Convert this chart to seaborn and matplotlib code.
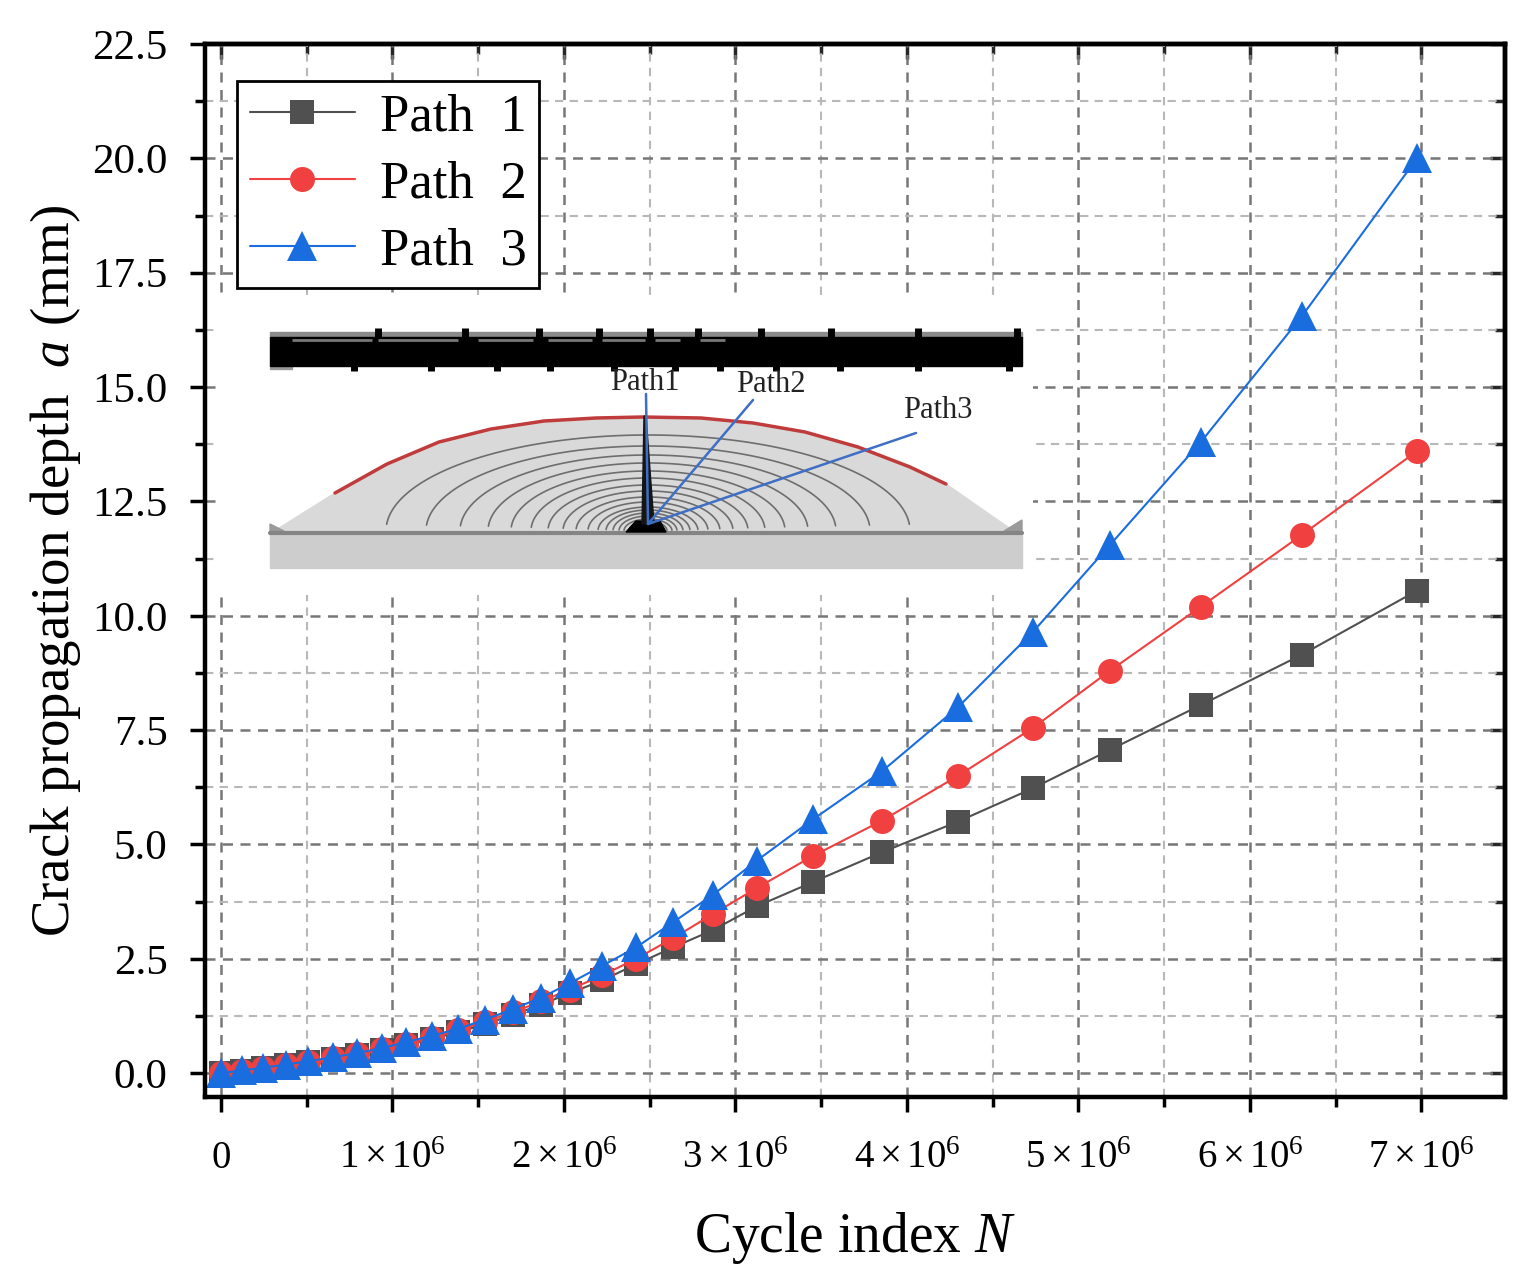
import numpy as np
import pandas as pd
import matplotlib
matplotlib.use("Agg")
import matplotlib.pyplot as plt
import seaborn as sns

# cycle index in millions
cycles = [0, 0.122, 0.248, 0.377, 0.507, 0.653, 0.793, 0.939, 1.079, 1.230, 1.382, 1.539, 1.700, 1.866,
          2.035, 2.224, 2.420, 2.636, 2.869, 3.125, 3.452, 3.854, 4.297, 4.735, 5.184, 5.714, 6.303, 6.974]
path1 = [0, 0.05, 0.11, 0.17, 0.24, 0.31, 0.40, 0.50, 0.62, 0.75, 0.90, 1.07, 1.27, 1.50,
         1.75, 2.03, 2.38, 2.75, 3.13, 3.65, 4.18, 4.83, 5.50, 6.23, 7.07, 8.05, 9.15, 10.55]
path2 = [0, 0.05, 0.11, 0.18, 0.25, 0.33, 0.42, 0.52, 0.64, 0.78, 0.94, 1.12, 1.33, 1.57,
         1.83, 2.14, 2.50, 2.95, 3.48, 4.05, 4.75, 5.52, 6.50, 7.55, 8.80, 10.20, 11.77, 13.60]
path3 = [0, 0.06, 0.12, 0.19, 0.26, 0.35, 0.44, 0.55, 0.68, 0.82, 0.97, 1.17, 1.40, 1.65,
         1.97, 2.35, 2.75, 3.30, 3.90, 4.65, 5.55, 6.60, 8.00, 9.65, 11.55, 13.80, 16.55, 20.00]

x_ticks = [0, 1, 2, 3, 4, 5, 6, 7]
x_labels = ["0"] + [rf"${i}\times10^{{6}}$" for i in x_ticks[1:]]
y_ticks = [0, 2.5, 5, 7.5, 10, 12.5, 15, 17.5, 20, 22.5]

# inset sketch, in pixels of the picture
red_x = [335, 387, 439, 491, 544, 596, 643, 701, 753, 805, 858, 910, 946]
red_y = [493, 464, 442, 429, 421, 418, 417, 418, 423, 432, 447, 467, 484]
arc_a = [262, 222, 188, 160, 137, 117, 100, 85, 72, 60, 50, 42, 35, 29, 24, 19, 15, 11, 8, 5]
arc_b = [96, 85, 76, 68, 60, 53, 46, 40, 34, 29, 24, 21, 18, 15, 12, 10, 8, 6, 4, 3]
nubs_top = [378, 465, 539, 599, 650, 698, 761, 831, 918, 1017]
nubs_bottom = [354, 431, 497, 550, 614, 675, 720, 776, 840, 918, 1009]
band_x0 = [292, 378, 478, 548, 602, 655, 700]
band_x1 = [372, 458, 533, 592, 645, 680, 725]

W, H = 1538, 1276
sns.set_theme(style="ticks")
plt.rcParams["font.family"] = ["Liberation Serif", "DejaVu Serif"]
plt.rcParams["mathtext.fontset"] = "custom"
plt.rcParams["mathtext.rm"] = "Liberation Serif"
plt.rcParams["mathtext.it"] = "Liberation Serif:italic"
plt.rcParams["text.color"] = "black"
plt.rcParams["axes.labelcolor"] = "black"
plt.rcParams["xtick.labelcolor"] = "black"
plt.rcParams["ytick.labelcolor"] = "black"

fig = plt.figure(figsize=(W / 100, H / 100), dpi=100)
ax = fig.add_axes([205 / W, 1 - 1097 / H, 1300 / W, 1053 / H])

df = pd.DataFrame({"cycles": cycles, "p1": path1, "p2": path2, "p3": path3})
sns.lineplot(data=df, x="cycles", y="p1", ax=ax, color="#505050", marker="s", markersize=17,
             markeredgewidth=0, linewidth=1.5, label="Path  1")
sns.lineplot(data=df, x="cycles", y="p2", ax=ax, color="#f04040", marker="o", markersize=18,
             markeredgewidth=0, linewidth=1.5, label="Path  2")
sns.lineplot(data=df, x="cycles", y="p3", ax=ax, color="#1a6ddf", marker="^", markersize=22,
             markeredgewidth=0, linewidth=1.5, label="Path  3")

ax.set_xlim(-0.093, 7.487)
ax.set_ylim(-0.52, 22.5)
ax.set_xticks(x_ticks)
ax.set_xticklabels(x_labels)
ax.set_yticks(y_ticks)
ax.set_yticklabels([f"{v:.1f}" for v in y_ticks])
ax.set_xticks(np.arange(0.5, 7.5, 1), minor=True)
ax.set_yticks(np.arange(1.25, 22.5, 2.5), minor=True)

ax.set_axisbelow(True)
ax.grid(True, which="major", color="#777777", linewidth=1.8, linestyle=(0, (4, 3)))
ax.grid(True, which="minor", color="#b8b8b8", linewidth=1.5, linestyle=(0, (4, 3)))

ax.tick_params(which="major", direction="out", length=11, width=2.5, color="black")
ax.tick_params(which="minor", direction="out", length=7, width=2.5, color="black")
ax.tick_params(axis="x", which="major", pad=20, labelsize=28)
ax.tick_params(axis="y", which="major", pad=16, labelsize=31)

# inward ticks on the top and right sides
ax2 = ax.secondary_xaxis("top")
ax2.set_xticks(x_ticks)
ax2.set_xticks(np.arange(0.5, 7.5, 1), minor=True)
ax2.tick_params(which="major", direction="in", length=11, width=2.5, labeltop=False)
ax2.tick_params(which="minor", direction="in", length=7, width=2.5)
ay2 = ax.secondary_yaxis("right")
ay2.set_yticks(y_ticks)
ay2.set_yticks(np.arange(1.25, 22.5, 2.5), minor=True)
ay2.tick_params(which="major", direction="in", length=11, width=2.5, labelright=False)
ay2.tick_params(which="minor", direction="in", length=7, width=2.5)

for a in (ax, ax2, ay2):
    for s in a.spines.values():
        s.set_linewidth(3.2)
        s.set_color("black")

ax.set_xlabel(r"Cycle index $N$", fontsize=40, va="center")
ax.set_ylabel(r"Crack propagation depth  $a$ (mm)", fontsize=39.5, va="center")
ax.xaxis.set_label_coords(0.5, -0.134)
ax.yaxis.set_label_coords(-0.115, 0.5)

leg = ax.legend(loc="upper left", bbox_to_anchor=((237 - 205) / 1300, 1 - (81 - 44) / 1053),
                fontsize=38, frameon=True, fancybox=False, framealpha=1, edgecolor="black",
                borderaxespad=0, handlelength=2.0, handletextpad=0.47, labelspacing=0.36,
                borderpad=0.24)
leg.get_frame().set_linewidth(2)

# inset sketch of the crack front
ins = fig.add_axes([218 / W, 1 - 595 / H, 815 / W, 295 / H])
ins.set_xlim(218, 1033)
ins.set_ylim(595, 300)
ins.axis("off")
ins.add_patch(plt.Rectangle((218, 300), 815, 295, color="white", zorder=0))
ins.add_patch(plt.Rectangle((270, 534), 752, 34, color="#cdcdcd", zorder=1))
ins.fill([276] + red_x + [1012, 1012, 276], [530] + red_y + [530, 534, 534], color="#d9d9d9", zorder=2)
ins.fill([270, 284, 270], [524, 531, 531], color="#9a9a9a", zorder=2.5)
ins.fill([1022, 1004, 1022], [520, 531, 531], color="#9a9a9a", zorder=2.5)
ins.plot([270, 1022], [533, 533], color="#858585", linewidth=3, zorder=4)
ins.plot(red_x, red_y, color="#c03c3c", linewidth=2.5, zorder=3)

t = np.linspace(0.07, np.pi - 0.07, 120)
for a, b in zip(arc_a, arc_b):
    ins.plot(648 + a * np.cos(t), 531 - b * np.sin(t), color="#6e6e6e", linewidth=1.2, zorder=3)

# thick band at the top with weld nubs
ins.add_patch(plt.Rectangle((270, 332), 752, 6, color="#8a8a8a", zorder=3))
ins.add_patch(plt.Rectangle((270, 337), 752, 29, color="black", zorder=4))
ins.add_patch(plt.Rectangle((270, 366), 22, 3, color="#999999", zorder=3))
ins.vlines(nubs_top, 328, 340, color="black", linewidth=5, zorder=5)
ins.vlines(nubs_bottom, 362, 371, color="black", linewidth=5, zorder=5)
ins.hlines([339.5] * len(band_x0), band_x0, band_x1, color="#777777", linewidth=2, zorder=5)

ins.fill([626, 636, 660, 666], [532, 521, 521, 532], color="black", zorder=5)
ins.fill([644, 646, 654, 642], [416, 416, 524, 524], color="#151515", zorder=5)
ins.plot([646, 648], [394, 524], color="#3f6fc4", linewidth=1.8, zorder=6)
ins.plot([753, 648], [400, 524], color="#3f6fc4", linewidth=1.8, zorder=6)
ins.plot([916, 648], [433, 524], color="#3f6fc4", linewidth=1.8, zorder=6)
ins.text(645, 382, "Path1", fontsize=22, ha="center", va="center", color="#222222", zorder=7)
ins.text(771, 384, "Path2", fontsize=22, ha="center", va="center", color="#222222", zorder=7)
ins.text(938, 410, "Path3", fontsize=22, ha="center", va="center", color="#222222", zorder=7)

fig.savefig("out.png", dpi=100)
